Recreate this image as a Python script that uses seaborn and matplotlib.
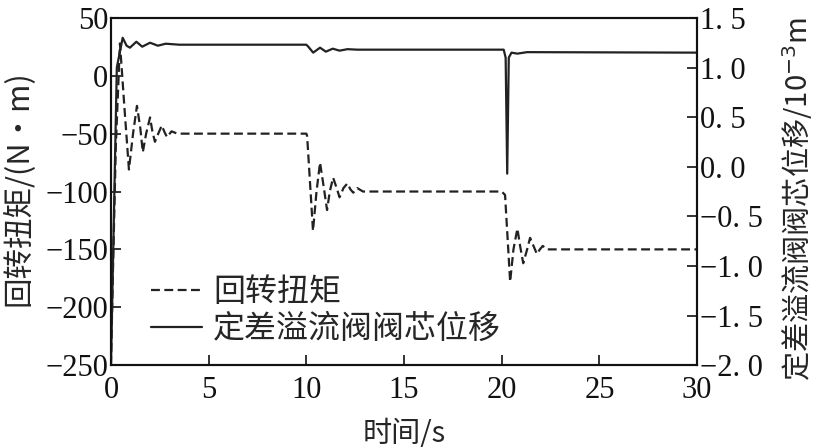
import numpy as np
import pandas as pd
import seaborn as sns
import matplotlib.pyplot as plt

# torque (left axis)
t_torque = [0, 0.1, 0.25, 0.46, 0.7, 0.92, 1.13, 1.33, 1.5, 1.63, 1.8, 2.0, 2.12,
            2.25, 2.42, 2.6, 2.75, 2.87, 3.1, 3.4, 10.0, 10.04, 10.34, 10.52, 10.7,
            10.88, 11.06, 11.2, 11.37, 11.55, 11.7, 11.9, 12.1, 12.25, 12.4, 12.6,
            12.9, 13.2, 20.0, 20.17, 20.43, 20.6, 20.8, 20.95, 21.1, 21.3, 21.45,
            21.6, 21.8, 21.95, 22.1, 22.3, 22.6, 30]
torque = [-250, -170, -60, 28, -30, -81, -50, -26, -45, -66, -50, -36, -48,
          -57, -50, -43, -49, -53, -48, -50, -50, -52, -134, -100, -75,
          -95, -116, -100, -88, -97, -105, -97, -93, -98, -101, -97,
          -100, -100, -100, -103, -178, -150, -132, -148, -162, -150, -140,
          -146, -154, -150, -147, -150, -150, -150]

# valve spool displacement (right axis, 10^-3 m)
t_disp = [0, 0.1, 0.3, 0.6, 0.8, 0.97, 1.3, 1.6, 2.0, 2.4, 2.8, 3.5, 10.0, 10.1,
          10.35, 10.7, 11.0, 11.35, 11.7, 12.1, 12.6, 20.1, 20.2, 20.28, 20.36,
          20.5, 20.8, 21.3, 30]
disp = [-2.0, -1.0, 1.0, 1.3, 1.22, 1.2, 1.26, 1.21, 1.25, 1.22, 1.24, 1.23, 1.23,
        1.21, 1.15, 1.2, 1.16, 1.19, 1.17, 1.185, 1.18, 1.18, 1.1, -0.07, 1.1,
        1.15, 1.14, 1.155, 1.15]

left_ticks = [50, 0, -50, -100, -150, -200, -250]
right_ticks = [1.5, 1.0, 0.5, 0.0, -0.5, -1.0, -1.5, -2.0]
x_ticks = [0, 5, 10, 15, 20, 25, 30]

df_t = pd.DataFrame({'t': t_torque, 'v': torque})
df_d = pd.DataFrame({'t': t_disp, 'v': disp})

sns.set_theme(style='ticks')
cjk = ['Noto Sans CJK SC', 'DejaVu Sans']
num = 'Liberation Serif'

fig, ax = plt.subplots(figsize=(8.25, 4.48), dpi=100)
fig.subplots_adjust(left=0.1345, right=0.845, top=0.96, bottom=0.185)
ax2 = ax.twinx()

sns.lineplot(data=df_t, x='t', y='v', ax=ax, color='#222222', lw=1.6,
             linestyle=(0, (4, 2)), legend=False)
sns.lineplot(data=df_d, x='t', y='v', ax=ax2, color='#222222', lw=1.6,
             legend=False)

ax.set_xlim(0, 30)
ax.set_ylim(-250, 50)
ax2.set_ylim(-2.0, 1.5)

ax.set_xticks(x_ticks)
ax.set_xticklabels([str(v) for v in x_ticks], family=num, fontsize=22)
ax.set_yticks(left_ticks)
ax.set_yticklabels([str(v).replace('-', '\u2212') for v in left_ticks],
                   family=num, fontsize=22)
ax2.set_yticks(right_ticks)
ax2.set_yticklabels([f'{v:.1f}'.replace('.', '. ').replace('-', '\u2212')
                     for v in right_ticks], family=num, fontsize=22)

for a in (ax, ax2):
    a.tick_params(direction='in', length=7, width=1.2, pad=2, colors='#111111')
    for s in a.spines.values():
        s.set_linewidth(1.5)
        s.set_color('#111111')
ax.tick_params(axis='x', pad=8)

ax.set_xlabel('时间/s', family=cjk, fontsize=21, labelpad=10)
ax.set_ylabel('回转扭矩/(N·m)', family=cjk, fontsize=22)
ax.yaxis.set_label_coords(-0.13, 0.51)
ax2.set_ylabel('定差溢流阀阀芯位移/10$^{-3}$m', family=cjk, fontsize=21)
ax2.yaxis.set_label_coords(1.142, 0.478)

h1 = ax.get_lines()[0]
h2 = ax2.get_lines()[0]
ax.legend([h1, h2], ['回转扭矩', '定差溢流阀阀芯位移'], loc='upper left',
          bbox_to_anchor=(0.03, 0.32), frameon=False,
          prop={'family': cjk, 'size': 23},
          handlelength=1.6, handletextpad=0.35, labelspacing=0.15, borderpad=0.2)

fig.savefig('out.png', dpi=100)
